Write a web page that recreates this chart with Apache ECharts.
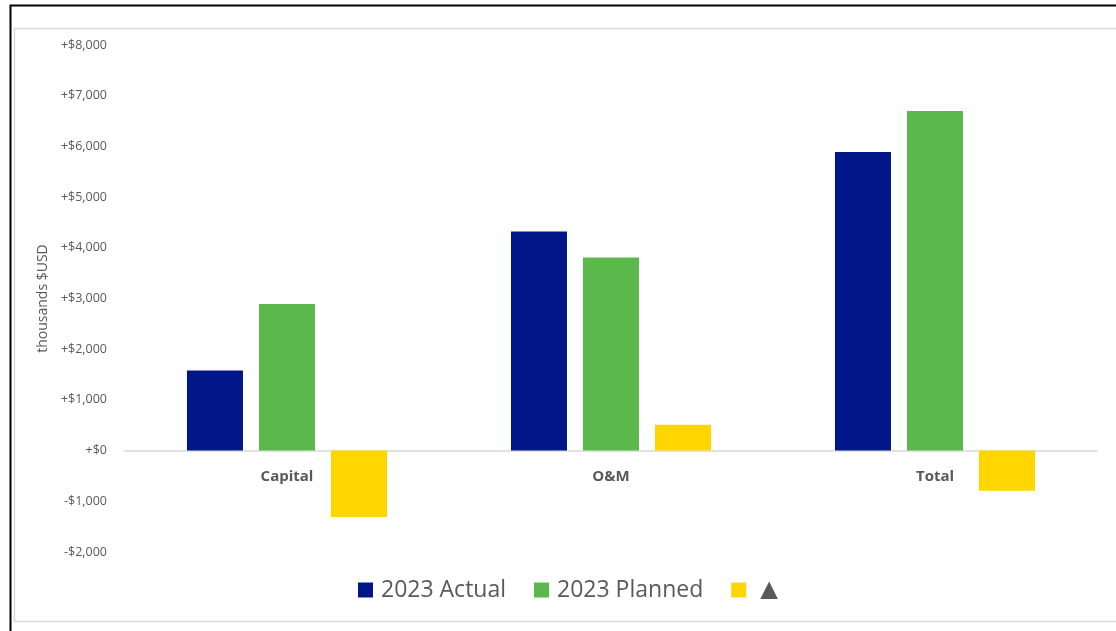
<!DOCTYPE html>
<html>
<head>
<meta charset="utf-8">
<script src="https://cdn.jsdelivr.net/npm/echarts@6/dist/echarts.min.js"></script>
<style>
  html, body { margin: 0; padding: 0; background: #fff; }
  #chart { width: 1116px; height: 631px; }
</style>
</head>
<body>
<div id="chart"></div>
<script>
// Budget comparison by category (thousands of USD)
const categories = ['Capital', 'O&M', 'Total'];
const actual2023 = [1580, 4320, 5890];
const planned2023 = [2890, 3810, 6700];
const delta = [-1310, 510, -790];
const seriesNames = ['2023 Actual', '2023 Planned', '\u25B2'];
const yTicks = { min: -2000, max: 8000, step: 1000 };

const textColor = '#595959';
const fontFamily = '"Open Sans", "Noto Sans", sans-serif';

const W = 1116, H = 631;
const grid = { left: 125, right: 19, top: 45, bottom: 79 };
// lift the category axis up to the zero value of the y scale
const plotHeight = H - grid.top - grid.bottom;
const zeroOffset = -plotHeight * (0 - yTicks.min) / (yTicks.max - yTicks.min);

function money(v) {
  const s = Math.abs(v).toLocaleString('en-US');
  return (v < 0 ? '-$' : '+$') + s;
}

const chart = echarts.init(document.getElementById('chart'), null, { renderer: 'canvas' });

chart.setOption({
  animation: false,
  backgroundColor: '#fff',
  textStyle: { fontFamily: fontFamily },
  graphic: [
    // outer frame
    { type: 'rect', shape: { x: 10.5, y: 5.5, width: 1120, height: 640 },
      style: { fill: 'none', stroke: '#000', lineWidth: 2 }, silent: true },
    // chart area border
    { type: 'rect', shape: { x: 14.5, y: 28.5, width: 1120, height: 593 },
      style: { fill: 'none', stroke: '#d9d9d9', lineWidth: 1.5 }, silent: true }
  ],
  grid: Object.assign({ containLabel: false }, grid),
  legend: {
    bottom: 26,
    left: 358,
    padding: 0,
    itemWidth: 15,
    itemHeight: 15,
    itemGap: 28,
    icon: 'rect',
    formatter: function (name) {
      return name === '\u25B2' ? '{tri|' + name + '}' : '{n|' + name + '}';
    },
    textStyle: {
      color: textColor, fontSize: 23, fontFamily: fontFamily,
      rich: {
        n: { fontSize: 23, color: textColor, padding: [0, 0, 0, 3] },
        tri: { fontSize: 30, color: textColor, padding: [0, 0, 0, 3] }
      }
    },
    data: seriesNames
  },
  xAxis: {
    type: 'category',
    data: categories,
    offset: zeroOffset,
    axisTick: { show: false },
    axisLine: { onZero: false, lineStyle: { color: '#d9d9d9', width: 1.5 } },
    axisLabel: { color: textColor, fontWeight: 'bold', fontSize: 15, margin: 19 }
  },
  yAxis: {
    type: 'value',
    min: yTicks.min,
    max: yTicks.max,
    interval: yTicks.step,
    name: 'thousands $USD',
    nameLocation: 'middle',
    nameGap: 74,
    nameTextStyle: { color: textColor, fontSize: 14 },
    axisLine: { show: false },
    axisTick: { show: false },
    splitLine: { show: false },
    axisLabel: { color: textColor, fontSize: 12.5, margin: 18, formatter: money }
  },
  series: [
    { name: seriesNames[0], type: 'bar', data: actual2023, barWidth: 56, barGap: '28.6%',
      itemStyle: { color: '#001689' } },
    { name: seriesNames[1], type: 'bar', data: planned2023, barWidth: 56, barGap: '28.6%',
      itemStyle: { color: '#5ab94a' } },
    { name: seriesNames[2], type: 'bar', data: delta, barWidth: 56, barGap: '28.6%',
      itemStyle: { color: '#ffd600' } }
  ]
});
</script>
</body>
</html>
